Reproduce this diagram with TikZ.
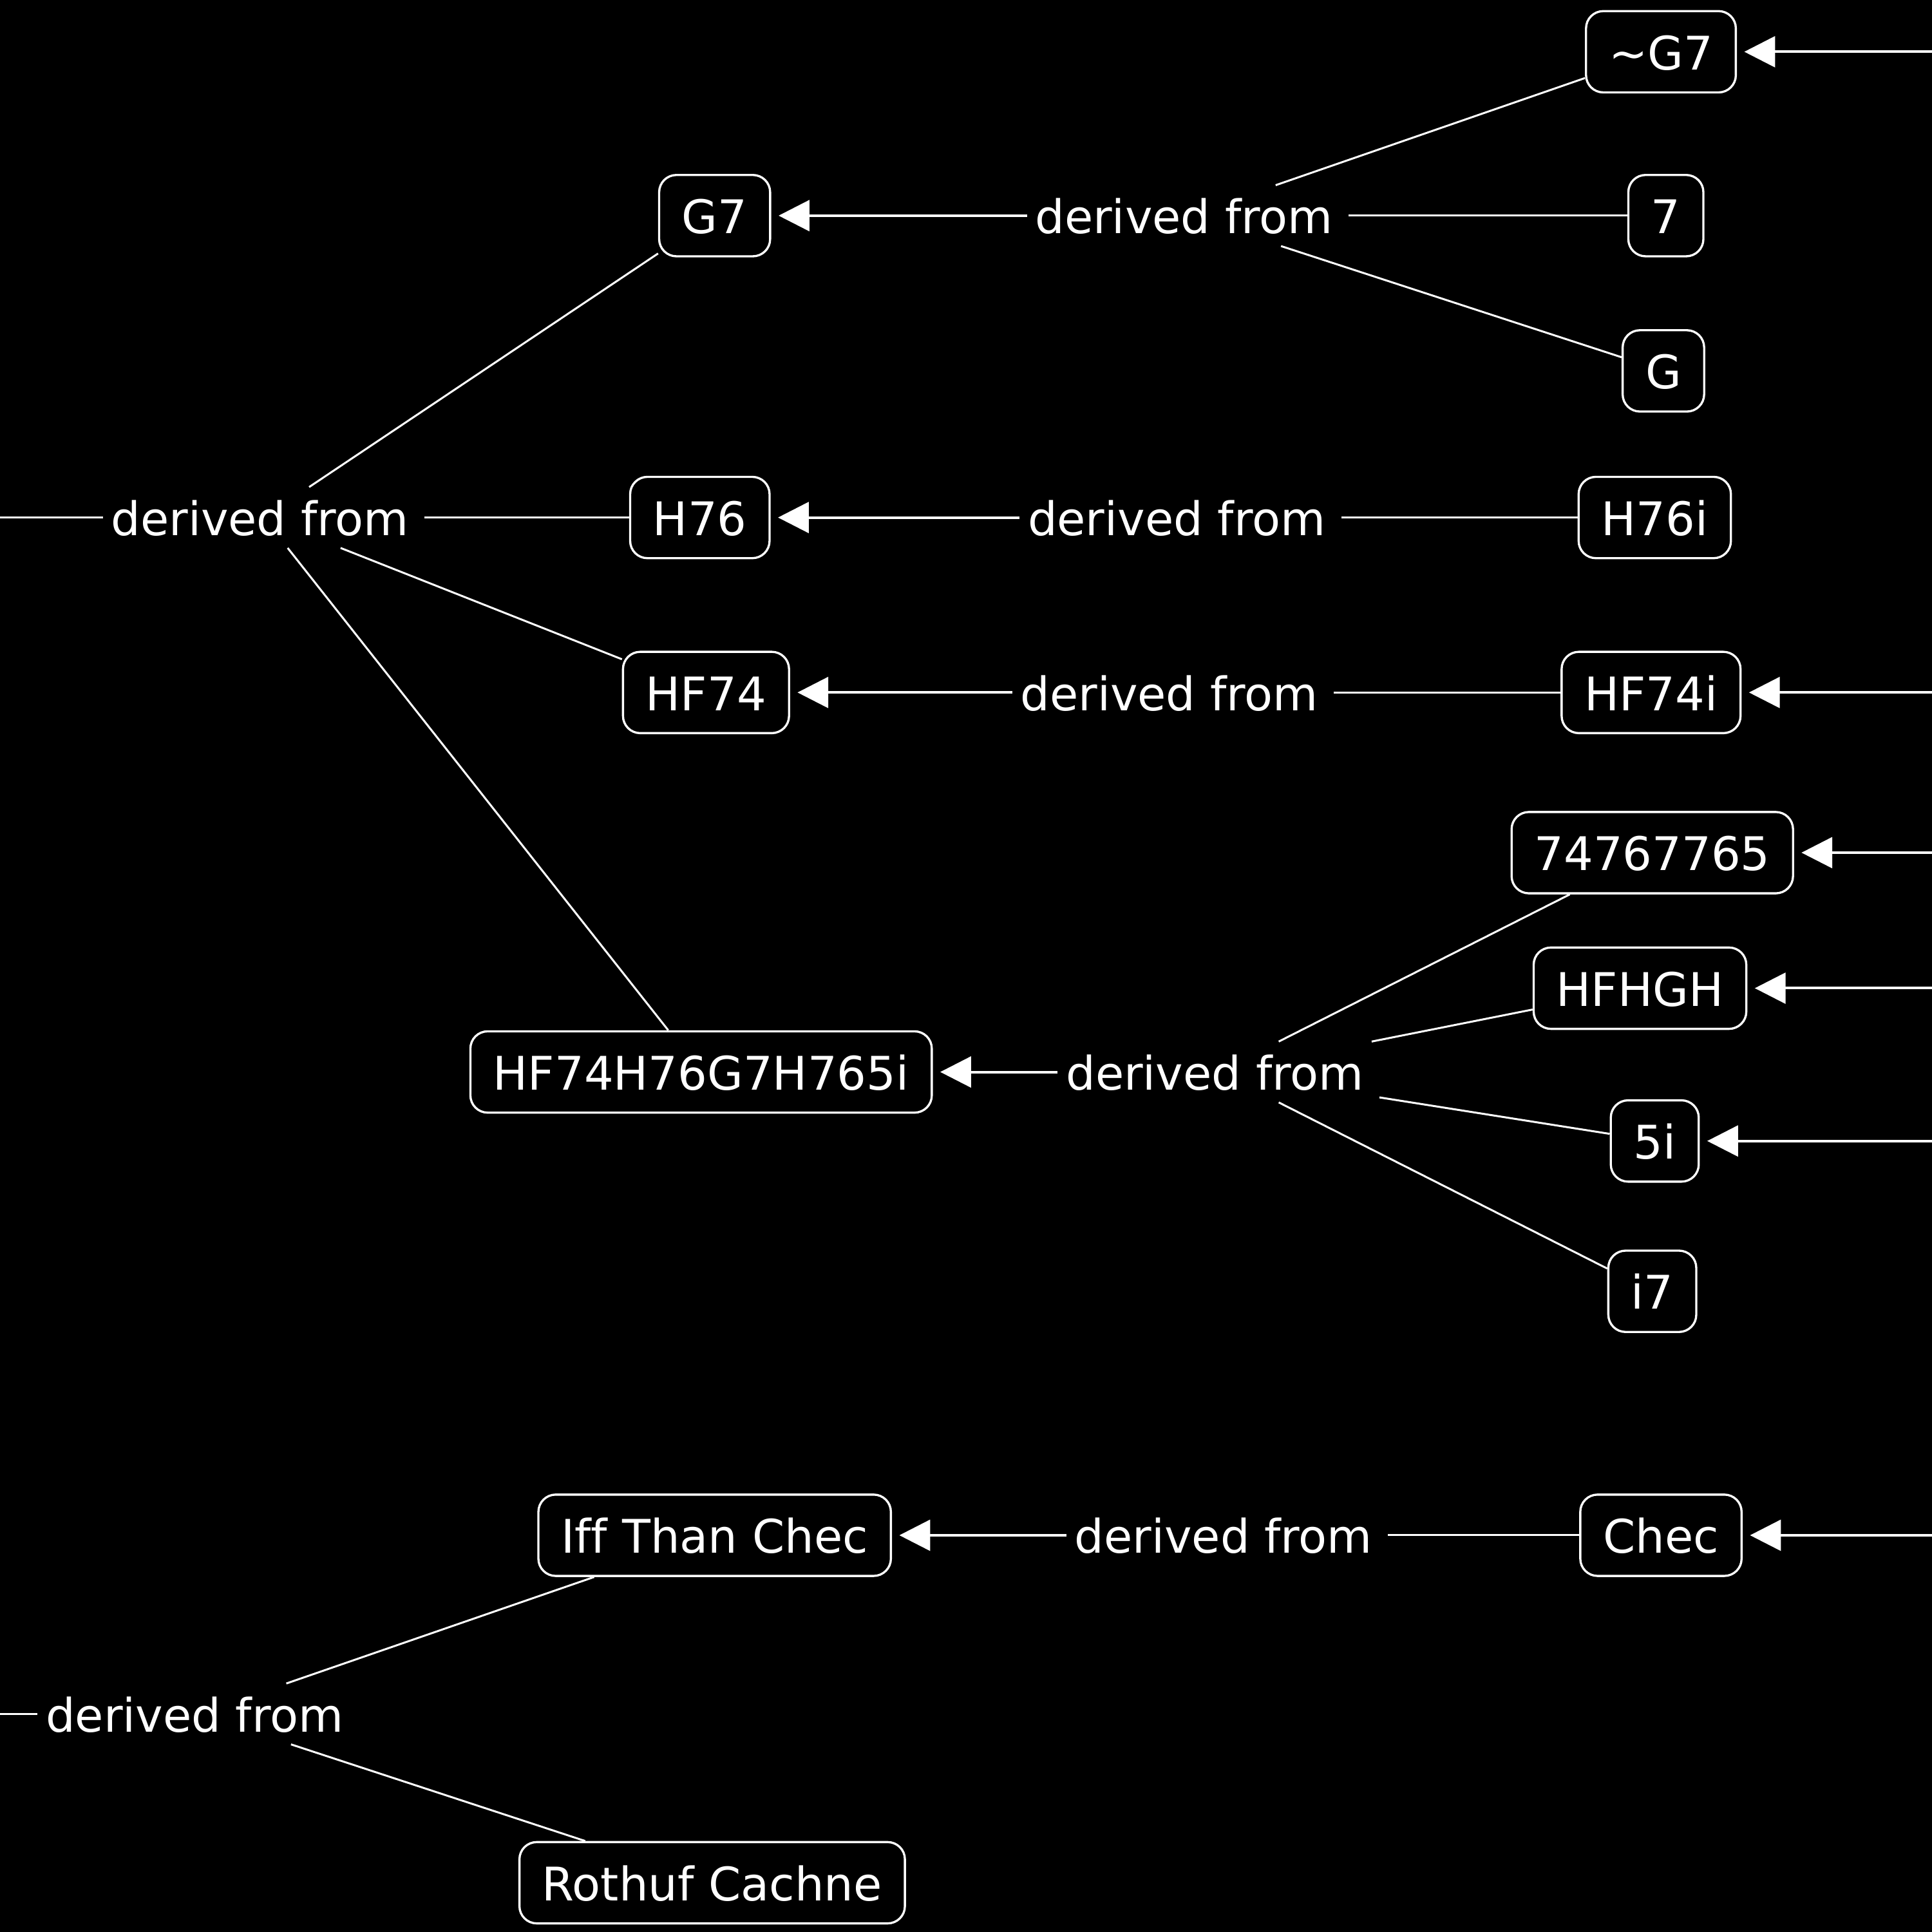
\documentclass[tikz,border=0pt]{standalone}
\usepackage{fontspec}
\setmainfont[Ligatures=CommonOff]{DejaVu Sans}
\usepackage{tikz}
\usetikzlibrary{arrows.meta,positioning}

\begin{document}
\begin{tikzpicture}[
  x=0.1mm,y=-0.1mm,
  box/.style={draw=white,rounded corners=1.4mm,align=center,minimum height=6.6mm,inner xsep=1.85mm,text height=2.9mm,text depth=0mm,line width=0.5pt,text=white,font=\fontsize{10.7}{12}\selectfont},
  link/.style={text=white,inner xsep=0.6mm,inner ysep=0.95mm,text height=2.9mm,text depth=0mm,font=\fontsize{10.7}{12}\selectfont,execute at end node={\hspace{0.6mm}}},
  arrow/.style={draw=white,line width=0.6pt,-{Triangle[length=2.5mm,width=2.5mm]},shorten >=0.6mm},
  plain/.style={draw=white,line width=0.45pt}
]
\fill[black] (0,0) rectangle (1568,1568);
\useasboundingbox (0,0) rectangle (1568,1568);

\node[box] (tG7) at (1348,42) {\textasciitilde G7};
\node[box] (n7) at (1352,175) {7};
\node[box] (nG) at (1350,301) {G};
\node[link] (dfA) at (964,175) {derived from};
\node[box] (G7) at (580,175) {G7};

\node[link] (dfMain) at (214,420) {derived from};
\node[box] (H76) at (568,420) {H76};
\node[link] (dfB) at (958,420) {derived from};
\node[box] (H76i) at (1343,420) {H76i};

\node[box] (HF74) at (573,562) {HF74};
\node[link] (dfC) at (952,562) {derived from};
\node[box] (HF74i) at (1340,562) {HF74i};

\node[box] (big) at (569,870) {HF74H76G7H765i};
\node[link] (dfD) at (989,870) {derived from};
\node[box] (n747) at (1341,692) {74767765};
\node[box] (HFHGH) at (1331,802) {HFHGH};
\node[box] (n5i) at (1343,926) {5i};
\node[box] (i7) at (1341,1048) {i7};

\node[box] (iff) at (580,1246) {Iff Than Chec};
\node[link] (dfE) at (996,1246) {derived from};
\node[box] (chec) at (1348,1246) {Chec};

\node[link] (dfF) at (161,1391) {derived from};
\node[box] (rothuf) at (578,1528) {Rothuf Cachne};

\coordinate (inMain) at (0,420);
\coordinate (inF) at (0,1391);
\coordinate (inA) at (1568,42);
\coordinate (inC) at (1568,562);
\coordinate (inD1) at (1568,692);
\coordinate (inD2) at (1568,802);
\coordinate (inD3) at (1568,926);
\coordinate (inE) at (1568,1246);

\draw[arrow] (inA) -- (tG7);
\draw[arrow] (inC) -- (HF74i);
\draw[arrow] (inD1) -- (n747);
\draw[arrow] (inD2) -- (HFHGH);
\draw[arrow] (inD3) -- (n5i);
\draw[arrow] (inE) -- (chec);

\draw[plain] (tG7) -- (dfA);
\draw[plain] (n7) -- (dfA);
\draw[plain] (nG) -- (dfA);
\draw[arrow] (dfA) -- (G7);

\draw[plain] (inMain) -- (dfMain);
\draw[plain] (dfMain) -- (G7);
\draw[plain] (dfMain) -- (H76);
\draw[plain] (dfMain) -- (HF74);
\draw[plain] (dfMain) -- (big);

\draw[plain] (H76i) -- (dfB);
\draw[arrow] (dfB) -- (H76);
\draw[plain] (HF74i) -- (dfC);
\draw[arrow] (dfC) -- (HF74);

\draw[plain] (n747) -- (dfD);
\draw[plain] (HFHGH) -- (dfD);
\draw[plain] (n5i) -- (dfD);
\draw[plain] (i7) -- (dfD);
\draw[arrow] (dfD) -- (big);

\draw[plain] (chec) -- (dfE);
\draw[arrow] (dfE) -- (iff);

\draw[plain] (inF) -- (dfF);
\draw[plain] (dfF) -- (iff);
\draw[plain] (dfF) -- (rothuf);
\end{tikzpicture}
\end{document}
